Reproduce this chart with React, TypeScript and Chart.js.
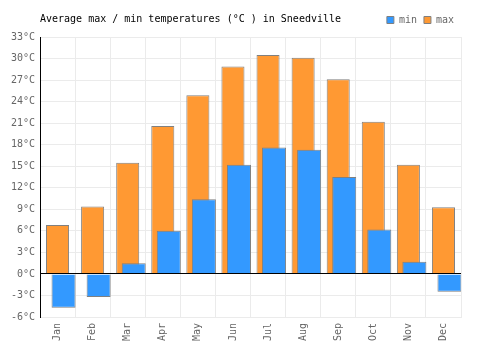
import React, { useEffect, useRef } from "react";
import { Chart, registerables } from "chart.js";

Chart.register(...registerables);

const months = ["Jan", "Feb", "Mar", "Apr", "May", "Jun", "Jul", "Aug", "Sep", "Oct", "Nov", "Dec"];
const maxTemps = [6.8, 9.4, 15.5, 20.6, 24.9, 28.9, 30.5, 30.1, 27.1, 21.2, 15.2, 9.3];
const minTemps = [-4.7, -3.2, 1.5, 6.0, 10.4, 15.2, 17.6, 17.3, 13.5, 6.2, 1.7, -2.5];
const yMin = -6;
const yMax = 33;
const yStep = 3;
const titleText = "Average max / min temperatures (°C ) in Sneedville";

const MONO = '"DejaVu Sans Mono", "Liberation Mono", monospace';

export default function App() {
  const ref = useRef<HTMLCanvasElement | null>(null);

  useEffect(() => {
    if (!ref.current) return;

    const extras = {
      id: "extras",
      beforeUpdate(chart: any) {
        const lg = chart.legend;
        if (lg && !lg._spaced) {
          const fit = lg.fit.bind(lg);
          lg.fit = function () {
            fit();
            this.height += 2;
          };
          lg._spaced = true;
        }
      },
      afterDatasetsDraw(chart: any) {
        const { ctx, chartArea } = chart;
        const y = Math.floor(chart.scales.y.getPixelForValue(0)) + 0.5;
        ctx.save();
        ctx.strokeStyle = "#000";
        ctx.lineWidth = 1;
        ctx.beginPath();
        ctx.moveTo(chartArea.left, y);
        ctx.lineTo(chartArea.right, y);
        ctx.stroke();
        ctx.restore();
      },
      afterDraw(chart: any) {
        const { ctx, chartArea } = chart;
        ctx.save();
        ctx.font = `10px ${MONO}`;
        ctx.fillStyle = "#000";
        ctx.textBaseline = "middle";
        ctx.textAlign = "left";
        ctx.fillText(titleText, chartArea.left, 19);
        ctx.restore();
      },
    };

    const chart = new Chart(ref.current, {
      type: "bar",
      data: {
        labels: months,
        datasets: [
          {
            label: "max",
            data: maxTemps,
            backgroundColor: "#FF9933",
            borderColor: "#808080",
            borderWidth: 1,
            grouped: false,
            order: 1,
            categoryPercentage: 1,
            barPercentage: 0.657,
          } as any,
          {
            label: "",
            data: months.map(() => null),
            order: 0,
          } as any,
          {
            label: "min",
            data: minTemps,
            backgroundColor: "#3399FF",
            borderColor: "#808080",
            borderWidth: 1,
            order: 0,
            categoryPercentage: 0.685,
            barPercentage: 2,
          } as any,
        ],
      },
      options: {
        animation: false,
        responsive: true,
        maintainAspectRatio: false,
        layout: { padding: { top: 8, right: 39, bottom: 0, left: 0 } },
        plugins: {
          title: { display: false },
          tooltip: { enabled: false },
          legend: {
            position: "top",
            align: "end",
            labels: {
              boxWidth: 7,
              boxHeight: 7,
              padding: 7,
              color: "#666",
              font: { family: MONO, size: 10 },
              filter: (item: any) => item.text !== "",
            },
          },
        },
        scales: {
          x: {
            offset: true,
            grid: { color: "#ebebeb", drawTicks: false, offset: true },
            border: { color: "#ebebeb" },
            ticks: {
              color: "#666",
              font: { family: MONO, size: 10 },
              maxRotation: 90,
              minRotation: 90,
              padding: 6,
            },
            afterFit: (scale: any) => {
              scale.height = 33;
            },
          },
          y: {
            min: yMin,
            max: yMax,
            grid: {
              color: (c: any) => (c.tick && c.tick.value === 0 ? "#000" : "#ebebeb"),
              drawTicks: false,
            },
            border: { color: "#000", width: 1 },
            ticks: {
              stepSize: yStep,
              color: "#666",
              font: { family: MONO, size: 10 },
              padding: 5,
              callback: (v: any) => `${v}°C`,
            },
            afterFit: (scale: any) => {
              scale.width = 40;
            },
          },
        },
      },
      plugins: [extras],
    });

    return () => chart.destroy();
  }, []);

  return (
    <div style={{ position: "fixed", left: 0, top: 0, width: 500, height: 350, background: "#fff" }}>
      <canvas ref={ref} />
    </div>
  );
}
